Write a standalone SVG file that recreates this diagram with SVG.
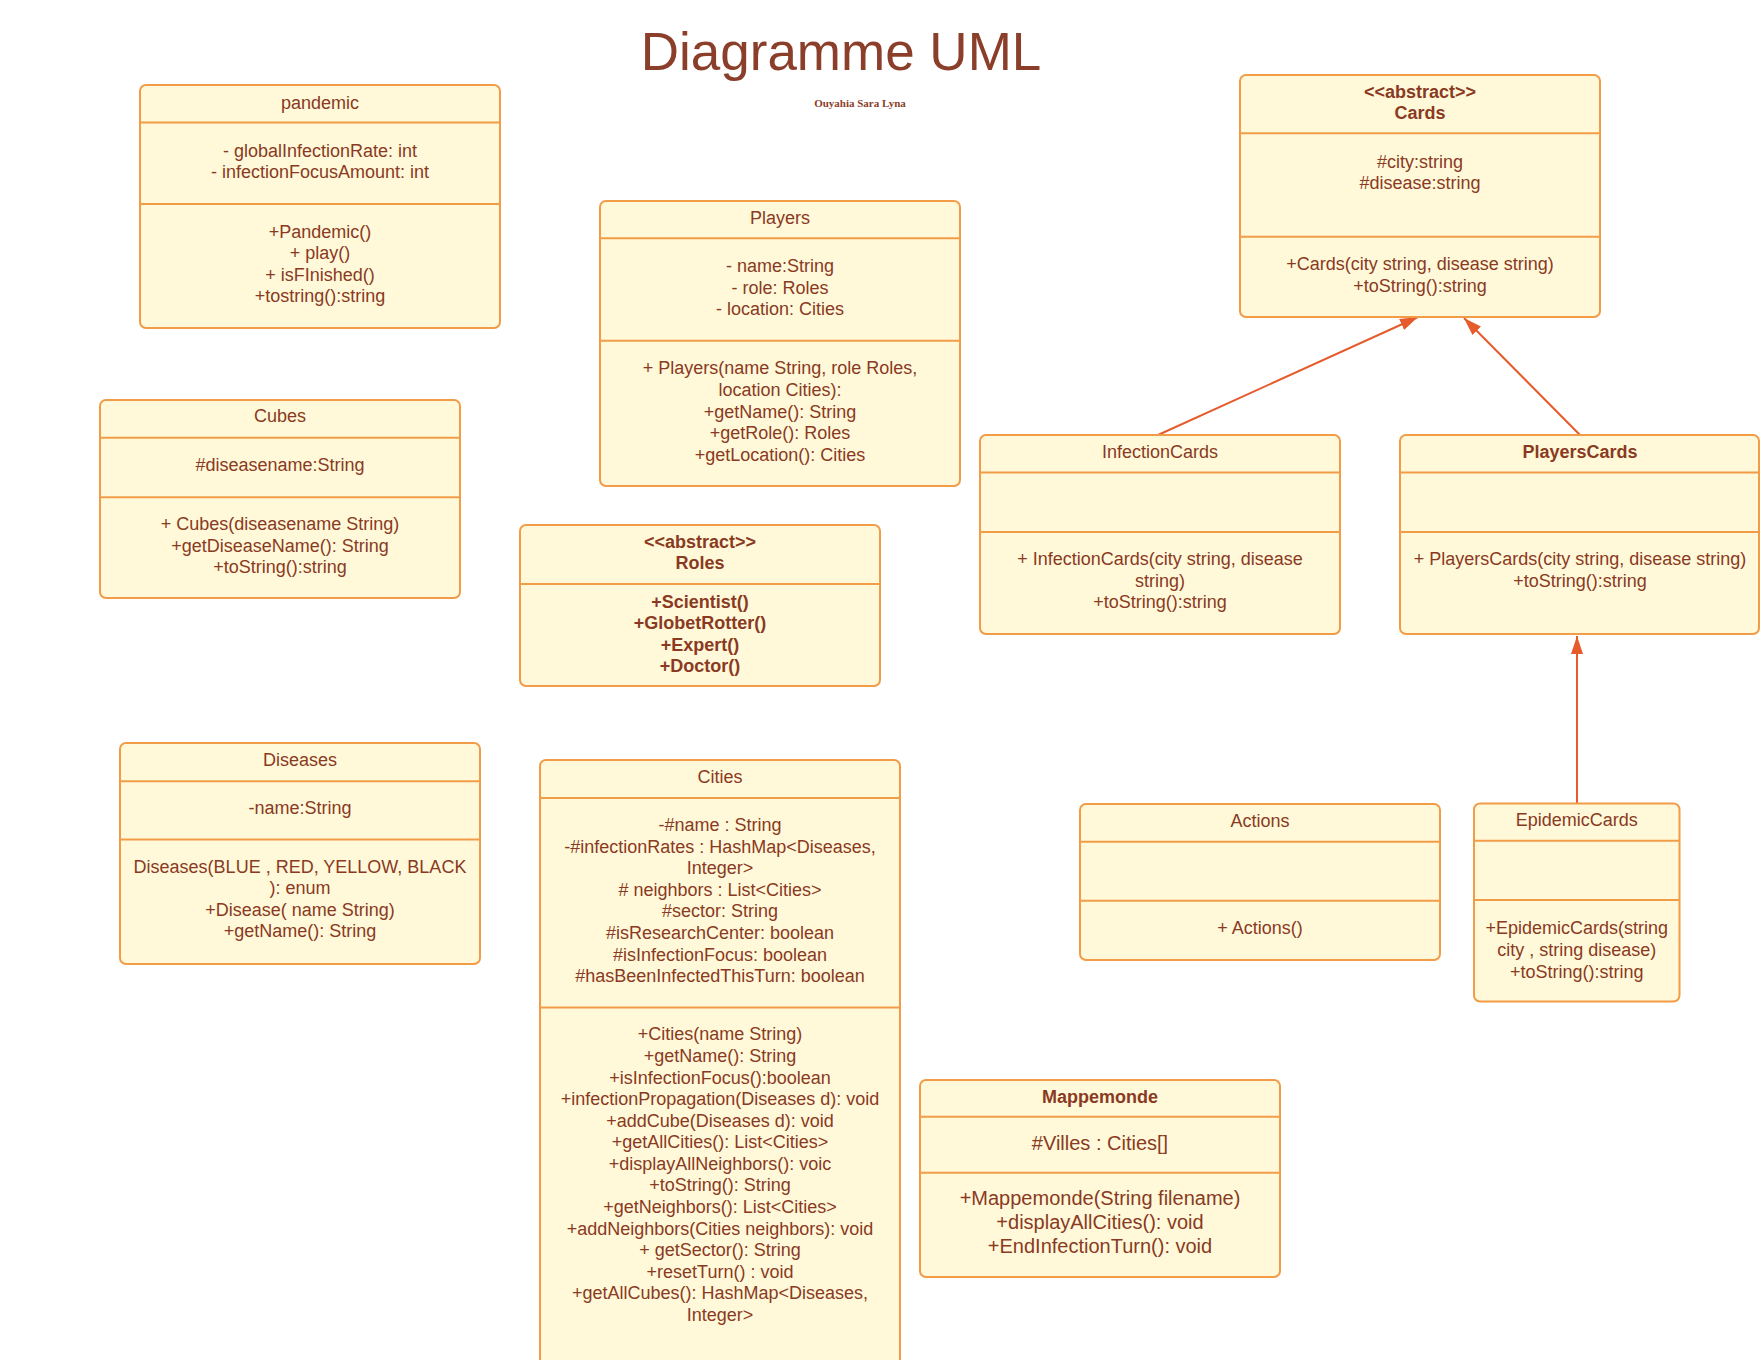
<svg xmlns="http://www.w3.org/2000/svg" width="1760" height="1360" viewBox="0 0 1760 1360">
<defs>
<style>
.box{fill:#FFF9DA;stroke:#F29C47;stroke-width:2}
.sep{stroke:#F29C47;stroke-width:2}
.t{font-family:"Liberation Sans",Arial,sans-serif;font-size:18px;fill:#8A3A22;text-anchor:middle}
.b{font-weight:bold}
.l{font-size:20px}
.conn{stroke:#E55B2B;stroke-width:2;fill:none}
</style>
<marker id="tri" markerUnits="userSpaceOnUse" markerWidth="18" markerHeight="12" refX="18" refY="6" orient="auto">
<path d="M0,0 L18,6 L0,12 z" fill="#E55B2B"/>
</marker>
</defs>
<rect width="1760" height="1360" fill="#FFFFFF"/>
<text x="841" y="70" style="font-family:'Liberation Sans',Arial,sans-serif;font-size:53px;fill:#8B3F2A;text-anchor:middle">Diagramme UML</text>
<text x="860" y="107" style="font-family:'Liberation Serif','Times New Roman',serif;font-size:11px;font-weight:bold;fill:#8B3F2A;text-anchor:middle">Ouyahia Sara Lyna</text>

<g id="connectors">
<line class="conn" x1="1158" y1="435" x2="1418" y2="317" marker-end="url(#tri)"/>
<line class="conn" x1="1580" y1="435" x2="1464" y2="318" marker-end="url(#tri)"/>
<line class="conn" x1="1577" y1="803" x2="1577" y2="636" marker-end="url(#tri)"/>
</g>

<g id="pandemic">
<rect class="box" x="140" y="85" width="360" height="243" rx="6"/>
<line class="sep" x1="140" y1="122.5" x2="500" y2="122.5"/>
<line class="sep" x1="140" y1="204" x2="500" y2="204"/>
<text class="t" x="320" y="108.5">pandemic</text>
<text class="t" x="320" y="156.5">- globalInfectionRate: int</text>
<text class="t" x="320" y="178">- infectionFocusAmount: int</text>
<text class="t" x="320" y="237.5">+Pandemic()</text>
<text class="t" x="320" y="259">+ play()</text>
<text class="t" x="320" y="280.5">+ isFInished()</text>
<text class="t" x="320" y="302">+tostring():string</text>
</g>

<g id="Players">
<rect class="box" x="600" y="201" width="360" height="285" rx="6"/>
<line class="sep" x1="600" y1="238.3" x2="960" y2="238.3"/>
<line class="sep" x1="600" y1="340.7" x2="960" y2="340.7"/>
<text class="t" x="780" y="223.7">Players</text>
<text class="t" x="780" y="272">- name:String</text>
<text class="t" x="780" y="293.7">- role: Roles</text>
<text class="t" x="780" y="315.3">- location: Cities</text>
<text class="t" x="780" y="374.3">+ Players(name String, role Roles,</text>
<text class="t" x="780" y="396">location Cities):</text>
<text class="t" x="780" y="417.7">+getName(): String</text>
<text class="t" x="780" y="439.3">+getRole(): Roles</text>
<text class="t" x="780" y="461">+getLocation(): Cities</text>
</g>

<g id="Cards">
<rect class="box" x="1240" y="75" width="360" height="242" rx="6"/>
<line class="sep" x1="1240" y1="133.3" x2="1600" y2="133.3"/>
<line class="sep" x1="1240" y1="236.7" x2="1600" y2="236.7"/>
<text class="t b" x="1420" y="98.3">&lt;&lt;abstract&gt;&gt;</text>
<text class="t b" x="1420" y="119.3">Cards</text>
<text class="t" x="1420" y="167.7">#city:string</text>
<text class="t" x="1420" y="189.3">#disease:string</text>
<text class="t" x="1420" y="270">+Cards(city string, disease string)</text>
<text class="t" x="1420" y="291.7">+toString():string</text>
</g>

<g id="Cubes">
<rect class="box" x="100" y="400" width="360" height="198" rx="6"/>
<line class="sep" x1="100" y1="437.7" x2="460" y2="437.7"/>
<line class="sep" x1="100" y1="497.2" x2="460" y2="497.2"/>
<text class="t" x="280" y="422.4">Cubes</text>
<text class="t" x="280" y="470.7">#diseasename:String</text>
<text class="t" x="280" y="530.2">+ Cubes(diseasename String)</text>
<text class="t" x="280" y="551.8">+getDiseaseName(): String</text>
<text class="t" x="280" y="573.4">+toString():string</text>
</g>

<g id="Roles">
<rect class="box" x="520" y="525" width="360" height="161" rx="6"/>
<line class="sep" x1="520" y1="584" x2="880" y2="584"/>
<text class="t b" x="700" y="547.7">&lt;&lt;abstract&gt;&gt;</text>
<text class="t b" x="700" y="569.3">Roles</text>
<text class="t b" x="700" y="607.7">+Scientist()</text>
<text class="t b" x="700" y="629">+GlobetRotter()</text>
<text class="t b" x="700" y="650.5">+Expert()</text>
<text class="t b" x="700" y="672">+Doctor()</text>
</g>

<g id="InfectionCards">
<rect class="box" x="980" y="435" width="360" height="199" rx="6"/>
<line class="sep" x1="980" y1="472.5" x2="1340" y2="472.5"/>
<line class="sep" x1="980" y1="532" x2="1340" y2="532"/>
<text class="t" x="1160" y="457.7">InfectionCards</text>
<text class="t" x="1160" y="565">+ InfectionCards(city string, disease</text>
<text class="t" x="1160" y="586.6">string)</text>
<text class="t" x="1160" y="608.2">+toString():string</text>
</g>

<g id="PlayersCards">
<rect class="box" x="1400" y="435" width="359" height="199" rx="6"/>
<line class="sep" x1="1400" y1="472.5" x2="1759" y2="472.5"/>
<line class="sep" x1="1400" y1="532" x2="1759" y2="532"/>
<text class="t b" x="1580" y="457.7">PlayersCards</text>
<text class="t" x="1580" y="565">+ PlayersCards(city string, disease string)</text>
<text class="t" x="1580" y="586.6">+toString():string</text>
</g>

<g id="Diseases">
<rect class="box" x="120" y="743" width="360" height="221" rx="6"/>
<line class="sep" x1="120" y1="781.2" x2="480" y2="781.2"/>
<line class="sep" x1="120" y1="839.6" x2="480" y2="839.6"/>
<text class="t" x="300" y="765.9">Diseases</text>
<text class="t" x="300" y="814.1">-name:String</text>
<text class="t" x="300" y="872.5">Diseases(BLUE , RED, YELLOW, BLACK</text>
<text class="t" x="300" y="894">): enum</text>
<text class="t" x="300" y="915.5">+Disease( name String)</text>
<text class="t" x="300" y="937">+getName(): String</text>
</g>

<g id="Cities">
<rect class="box" x="540" y="760" width="360" height="640" rx="6"/>
<line class="sep" x1="540" y1="798" x2="900" y2="798"/>
<line class="sep" x1="540" y1="1007.5" x2="900" y2="1007.5"/>
<text class="t" x="720" y="782.7">Cities</text>
<text class="t" x="720" y="831">-#name : String</text>
<text class="t" x="720" y="852.6">-#infectionRates : HashMap&lt;Diseases,</text>
<text class="t" x="720" y="874.2">Integer&gt;</text>
<text class="t" x="720" y="895.8"># neighbors : List&lt;Cities&gt;</text>
<text class="t" x="720" y="917.4">#sector: String</text>
<text class="t" x="720" y="939">#isResearchCenter: boolean</text>
<text class="t" x="720" y="960.6">#isInfectionFocus: boolean</text>
<text class="t" x="720" y="982.2">#hasBeenInfectedThisTurn: boolean</text>
<text class="t" x="720" y="1040.3">+Cities(name String)</text>
<text class="t" x="720" y="1062">+getName(): String</text>
<text class="t" x="720" y="1083.5">+isInfectionFocus():boolean</text>
<text class="t" x="720" y="1105">+infectionPropagation(Diseases d): void</text>
<text class="t" x="720" y="1126.7">+addCube(Diseases d): void</text>
<text class="t" x="720" y="1148.3">+getAllCities(): List&lt;Cities&gt;</text>
<text class="t" x="720" y="1169.8">+displayAllNeighbors(): voic</text>
<text class="t" x="720" y="1191.3">+toString(): String</text>
<text class="t" x="720" y="1213">+getNeighbors(): List&lt;Cities&gt;</text>
<text class="t" x="720" y="1234.7">+addNeighbors(Cities neighbors): void</text>
<text class="t" x="720" y="1256">+ getSector(): String</text>
<text class="t" x="720" y="1277.7">+resetTurn() : void</text>
<text class="t" x="720" y="1299.3">+getAllCubes(): HashMap&lt;Diseases,</text>
<text class="t" x="720" y="1321">Integer&gt;</text>
</g>

<g id="Actions">
<rect class="box" x="1080" y="804" width="360" height="156" rx="6"/>
<line class="sep" x1="1080" y1="841.7" x2="1440" y2="841.7"/>
<line class="sep" x1="1080" y1="900.7" x2="1440" y2="900.7"/>
<text class="t" x="1260" y="826.7">Actions</text>
<text class="t" x="1260" y="934.3">+ Actions()</text>
</g>

<g id="EpidemicCards">
<rect class="box" x="1474" y="803.5" width="205.5" height="198" rx="6"/>
<line class="sep" x1="1474" y1="840.7" x2="1679.5" y2="840.7"/>
<line class="sep" x1="1474" y1="900" x2="1679.5" y2="900"/>
<text class="t" x="1576.7" y="826">EpidemicCards</text>
<text class="t" x="1576.7" y="934.3">+EpidemicCards(string</text>
<text class="t" x="1576.7" y="956">city , string disease)</text>
<text class="t" x="1576.7" y="977.7">+toString():string</text>
</g>

<g id="Mappemonde">
<rect class="box" x="920" y="1080" width="360" height="197" rx="6"/>
<line class="sep" x1="920" y1="1116.7" x2="1280" y2="1116.7"/>
<line class="sep" x1="920" y1="1172.7" x2="1280" y2="1172.7"/>
<text class="t b" x="1100" y="1102.7">Mappemonde</text>
<text class="t l" x="1100" y="1150.3">#Villes : Cities[]</text>
<text class="t l" x="1100" y="1205.3">+Mappemonde(String filename)</text>
<text class="t l" x="1100" y="1229.3">+displayAllCities(): void</text>
<text class="t l" x="1100" y="1253">+EndInfectionTurn(): void</text>
</g>
</svg>
